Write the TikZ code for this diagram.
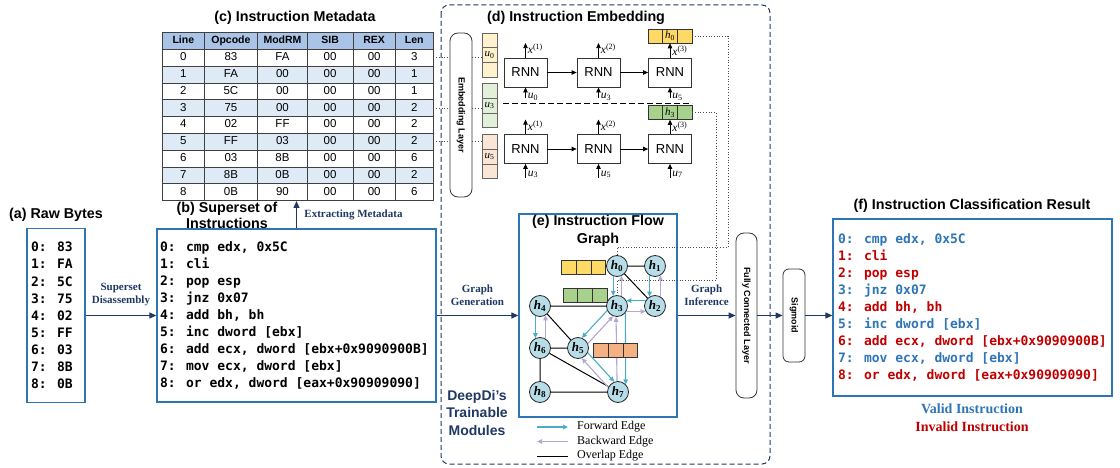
\documentclass[tikz,border=0pt]{standalone}
\usepackage{fontspec}
\usepackage{graphicx}
\setmainfont{Liberation Serif}
\newfontfamily\sansfont{Liberation Sans}
\newfontfamily\codefont{DejaVu Sans Mono}
\usetikzlibrary{matrix, arrows.meta, positioning}

\definecolor{navy}{HTML}{1F3864}
\definecolor{boxblue}{HTML}{2E75B6}
\definecolor{hdrblue}{HTML}{A9C4E6}
\definecolor{rowblue}{HTML}{DEEBF7}
\definecolor{nodeblue}{HTML}{B7DEE8}
\definecolor{fwdcol}{HTML}{4BACC6}
\definecolor{bwdcol}{HTML}{B4A7D6}
\definecolor{hyel}{HTML}{FFD966}
\definecolor{hgrn}{HTML}{A9D18E}
\definecolor{horg}{HTML}{F4B183}
\definecolor{uyel}{HTML}{FFF2CC}
\definecolor{ugrn}{HTML}{E2F0D9}
\definecolor{uorg}{HTML}{FBE5D6}
\definecolor{validcol}{HTML}{2E75B6}
\definecolor{invalidcol}{HTML}{C00000}

\tikzset{
  title/.style={font=\sansfont\bfseries\fontsize{14.3}{17.5}\selectfont, align=center},
  codebox/.style={draw=boxblue, line width=1.3pt, align=left, inner ysep=0pt,
    font=\codefont\bfseries\fontsize{13}{17.1}\selectfont,
    execute at begin node={\spaceskip=0pt\xspaceskip=0pt}},
  flow/.style={draw=navy, line width=1.2pt, -{Triangle[length=7pt,width=6pt]}},
  flowlabel/.style={font=\bfseries\fontsize{11}{13}\selectfont, text=navy, align=center},
  layer/.style={draw=black!80, line width=0.8pt, rounded corners=8pt, inner sep=0pt,
    font=\sansfont\bfseries\fontsize{9}{10}\selectfont},
  ucell/.style={draw=black!60, line width=0.6pt, minimum width=15pt, minimum height=14.7pt,
    inner sep=0pt, font=\fontsize{11}{11}\selectfont},
  hcell/.style={draw=black!80, line width=0.6pt, minimum width=14.7pt, minimum height=14pt,
    inner sep=0pt, font=\fontsize{11}{11}\selectfont},
  rnn/.style={draw=black!80, line width=0.8pt, minimum width=43pt, minimum height=29pt,
    font=\sansfont\fontsize{13}{13}\selectfont},
  sarrow/.style={line width=0.8pt, -{Triangle[length=5pt,width=4.5pt]}},
  mlabel/.style={font=\fontsize{11.5}{12}\selectfont, inner sep=2pt},
  gnode/.style={circle, draw=black!85, line width=0.8pt, fill=nodeblue, minimum size=21pt,
    inner sep=0pt, font=\fontsize{13}{13}\selectfont},
  fwd/.style={draw=fwdcol, line width=1.1pt, -{Triangle[length=5pt,width=4.5pt]}},
  bwd/.style={draw=bwdcol, line width=1.1pt, -{Triangle[length=5pt,width=4.5pt]}},
  overlap/.style={draw=black, line width=1pt},
  legend/.style={font=\fontsize{12}{13}\selectfont, inner sep=0pt},
  link/.style={draw=black!70, line width=0.7pt, dotted},
}

\begin{document}
\begin{tikzpicture}[x=1pt, y=-1pt]
\useasboundingbox (0,0) rectangle (1120,468);
\draw[navy, line width=1pt, dash pattern=on 5pt off 3pt, rounded corners=8pt] (441,5) rectangle (770,464);

\node[title] (ttla) at (56,215) {(a) Raw Bytes};
\node[codebox, text width=50pt, inner xsep=4pt, minimum height=174pt] (raw) at (56,315.5)
  {0: 83\\1: FA\\2: 5C\\3: 75\\4: 02\\5: FF\\6: 03\\7: 8B\\8: 0B};

\node[title, font=\sansfont\bfseries\fontsize{14.3}{16}\selectfont] (ttlb) at (227,215.5) {(b) Superset of\\Instructions};
\node[codebox, text width=273pt, inner xsep=3pt, minimum height=173pt] (sup) at (296.5,315.5)
  {0: cmp edx, 0x5C\\1: cli\\2: pop esp\\3: jnz 0x07\\4: add bh, bh\\5: inc dword [ebx]\\
   6: add ecx, dword [ebx+0x9090900B]\\7: mov ecx, dword [ebx]\\8: or edx, dword [eax+0x90909090]};

\node[title] (ttlc) at (295,18) {(c) Instruction Metadata};
\matrix (meta) [matrix of nodes, anchor=north west, inner sep=0pt, row sep=-0.6pt, column sep=-0.6pt,
  nodes={draw=black!75, line width=0.6pt, minimum height=16.8pt, inner sep=0pt, anchor=center,
    text height=8pt, text depth=2pt, font=\sansfont\fontsize{11.5}{12}\selectfont},
  column 1/.style={nodes={minimum width=41.6pt}}, column 2/.style={nodes={minimum width=53.6pt}},
  column 3/.style={nodes={minimum width=49.6pt}}, column 4/.style={nodes={minimum width=45.6pt}},
  column 5/.style={nodes={minimum width=42.6pt}}, column 6/.style={nodes={minimum width=37.6pt}},
  row 1/.style={nodes={fill=hdrblue, font=\sansfont\bfseries\fontsize{10.5}{12}\selectfont}},
  row 3/.style={nodes={fill=rowblue}}, row 5/.style={nodes={fill=rowblue}},
  row 7/.style={nodes={fill=rowblue}}, row 9/.style={nodes={fill=rowblue}}] at (162,32) {
Line & Opcode & ModRM & SIB & REX & Len \\
0 & 83 & FA & 00 & 00 & 3 \\
1 & FA & 00 & 00 & 00 & 1 \\
2 & 5C & 00 & 00 & 00 & 1 \\
3 & 75 & 00 & 00 & 00 & 2 \\
4 & 02 & FF & 00 & 00 & 2 \\
5 & FF & 03 & 00 & 00 & 2 \\
6 & 03 & 8B & 00 & 00 & 6 \\
7 & 8B & 0B & 00 & 00 & 2 \\
8 & 0B & 90 & 00 & 00 & 6 \\
};

\node[title] (ttld) at (576,18) {(d) Instruction Embedding};
\node[layer, minimum width=22pt, minimum height=164pt] (emb) at (461,115) {\rotatebox{-90}{Embedding Layer}};
\foreach \nm/\y/\col/\lab in {uA/55/uyel/0, uB/105.5/ugrn/3, uC/156.5/uorg/5}{
  \node[ucell, fill=\col] (\nm-2) at (489.5,\y) {\textit{u}\textsubscript{\lab}};
  \node[ucell, fill=\col, above=-0.6pt of \nm-2] (\nm-1) {};
  \node[ucell, fill=\col, below=-0.6pt of \nm-2] (\nm-3) {};
}
\foreach \nm/\y/\col/\lab in {hbarA/36/hyel/0, hbarB/112.5/hgrn/3}{
  \node[hcell, fill=\col] (\nm-2) at (670,\y) {\textit{h}\textsubscript{\lab}};
  \node[hcell, fill=\col, left=-0.6pt of \nm-2] (\nm-1) {};
  \node[hcell, fill=\col, right=-0.6pt of \nm-2] (\nm-3) {};
}
\foreach \i/\x in {1/525.5, 2/598.5, 3/670}{
  \node[rnn] (rnnT\i) at (\x,72.5) {RNN};
  \node[rnn] (rnnB\i) at (\x,149) {RNN};
}
\draw[sarrow] (rnnT1) -- (rnnT2);
\draw[sarrow] (rnnT2) -- (rnnT3);
\draw[sarrow] (rnnB1) -- (rnnB2);
\draw[sarrow] (rnnB2) -- (rnnB3);
\foreach \i/\a/\b in {1/0/3, 2/3/5, 3/5/7}{
  \draw[sarrow] ([yshift=-11pt]rnnT\i.south) -- (rnnT\i.south) node[mlabel, right, pos=0.15] {\textit{u}\textsubscript{\a}};
  \draw[sarrow] ([yshift=-14pt]rnnB\i.south) -- (rnnB\i.south) node[mlabel, right, pos=0.25] {\textit{u}\textsubscript{\b}};
}
\foreach \i in {1, 2}{
  \draw[sarrow] (rnnT\i.north) -- ++(0,-14.5) node[mlabel, right, pos=0.6] {\textit{x}\textsuperscript{(\i)}};
  \draw[sarrow] (rnnB\i.north) -- ++(0,-14.5) node[mlabel, right, pos=0.6] {\textit{x}\textsuperscript{(\i)}};
}
\draw[sarrow] (rnnT3.north) -- (hbarA-2.south) node[mlabel, right, pos=0.5] {\textit{x}\textsuperscript{(3)}};
\draw[sarrow] (rnnB3.north) -- (hbarB-2.south) node[mlabel, right, pos=0.5] {\textit{x}\textsuperscript{(3)}};
\draw[line width=0.8pt, dash pattern=on 6pt off 3pt] (503,103) -- (692,103);

\node[draw=boxblue, line width=1.3pt, minimum width=158pt, minimum height=203pt] (gbox) at (598,315.5) {};
\node[title] (ttle) at (598,231) {(e) Instruction Flow\\Graph};
\foreach \nm/\x/\y in {0/617/266, 1/655/266, 2/655/306, 3/617/306, 4/540/306, 5/578/348, 6/540/348, 7/618/392, 8/540/392}
  \node[gnode] (h\nm) at (\x,\y) {{\bfseries\itshape h}\textsubscript{\bfseries\nm}};
\draw[overlap] (h0) -- (h1) (h0) -- (h2) (h4) -- (h3) (h4) -- (h5) (h6) -- (h5) (h6) -- (h8) (h6) -- (h7) (h8) -- (h7);
\draw[fwd] (h0.-110) -- (h3.110);
\draw[bwd] (h3.65) -- (h0.-65);
\draw[fwd] (h1.-120) -- (h2.120);
\draw[bwd] (h2.60) -- (h1.-60);
\draw[fwd] (h2.150) -- (h3.30);
\draw[bwd] (h3.-30) -- (h2.-150);
\draw[fwd] (h4.-115) -- (h6.115);
\draw[bwd] (h6.60) -- (h4.-60);
\draw[fwd] (h3.205) -- (h5.69);
\draw[bwd] (h5.25) -- (h3.249);
\draw[fwd] (h5.-26) -- (h7.110);
\draw[bwd] (h7.154) -- (h5.-70);
\draw[fwd] (h3.-40) -- (h7.45);
\draw[bwd] (h7.95) -- (h3.-95);
\foreach \nm/\x/\y/\col in {gbarA/583.5/267/hyel, gbarB/585/295/hgrn, gbarC/615.5/350/horg}{
  \node[hcell, fill=\col] (\nm-2) at (\x,\y) {};
  \node[hcell, fill=\col, left=-0.6pt of \nm-2] (\nm-1) {};
  \node[hcell, fill=\col, right=-0.6pt of \nm-2] (\nm-3) {};
}

\node[legend, anchor=west] (lgF) at (577,427) {Forward Edge};
\node[legend, anchor=west] (lgB) at (577,441.5) {Backward Edge};
\node[legend, anchor=west] (lgO) at (577,456) {Overlap Edge};
\draw[fwd] ([xshift=-40pt]lgF.west) -- ([xshift=-9pt]lgF.west);
\draw[bwd] ([xshift=-9pt]lgB.west) -- ([xshift=-40pt]lgB.west);
\draw[overlap] ([xshift=-40pt]lgO.west) -- ([xshift=-9pt]lgO.west);
\node[font=\sansfont\bfseries\fontsize{14}{17.5}\selectfont, text=navy, align=center] (deepdi) at (477,412.5) {DeepDi’s\\Trainable\\Modules};

\node[layer, minimum width=21pt, minimum height=165pt] (fc) at (746.5,315.5) {\rotatebox{-90}{Fully Connected Layer}};
\node[layer, rounded corners=6pt, minimum width=22pt, minimum height=93pt] (sig) at (794,315.5) {\rotatebox{-90}{Sigmoid}};

\node[title] (ttlf) at (972,206) {(f) Instruction Classification Result};
\node[codebox, text width=269pt, inner xsep=5pt, minimum height=177pt] (res) at (972.5,307.5)
  {\textcolor{validcol}{0: cmp edx, 0x5C}\\\textcolor{invalidcol}{1: cli}\\\textcolor{invalidcol}{2: pop esp}\\
   \textcolor{validcol}{3: jnz 0x07}\\\textcolor{invalidcol}{4: add bh, bh}\\\textcolor{validcol}{5: inc dword [ebx]}\\
   \textcolor{invalidcol}{6: add ecx, dword [ebx+0x9090900B]}\\\textcolor{validcol}{7: mov ecx, dword [ebx]}\\
   \textcolor{invalidcol}{8: or edx, dword [eax+0x90909090]}};
\node[font=\bfseries\fontsize{14}{16}\selectfont, text=validcol] (valid) at (972,409) {Valid Instruction};
\node[font=\bfseries\fontsize{14}{16}\selectfont, text=invalidcol] (invalid) at (972,427) {Invalid Instruction};

\draw[flow] (raw) -- (sup) node[flowlabel, midway, above=6pt] {Superset\\Disassembly};
\draw[flow] (sup) -- (sup |- meta.south) node[flowlabel, midway, right, xshift=4pt] {Extracting Metadata};
\draw[flow] (sup) -- (gbox) node[flowlabel, midway, above=6pt] {Graph\\Generation};
\draw[flow] (gbox) -- (fc) node[flowlabel, midway, above=6pt] {Graph\\Inference};
\draw[flow] (fc) -- (sig);
\draw[flow] (sig) -- (sig -| res.west);

\foreach \r/\u in {2/uA-2, 5/uB-2, 7/uC-1}{
  \draw[link] (meta-\r-6.east) -- (meta-\r-6.east -| emb.west);
  \draw[link] (meta-\r-6.east -| emb.east) -- (meta-\r-6.east -| \u.west);
}
\draw[link] (hbarA-3.east) -| (728,247) -| (h0.north);
\draw[link] (hbarB-3.east) -| (716,280) -| (h3.north);
\end{tikzpicture}
\end{document}
